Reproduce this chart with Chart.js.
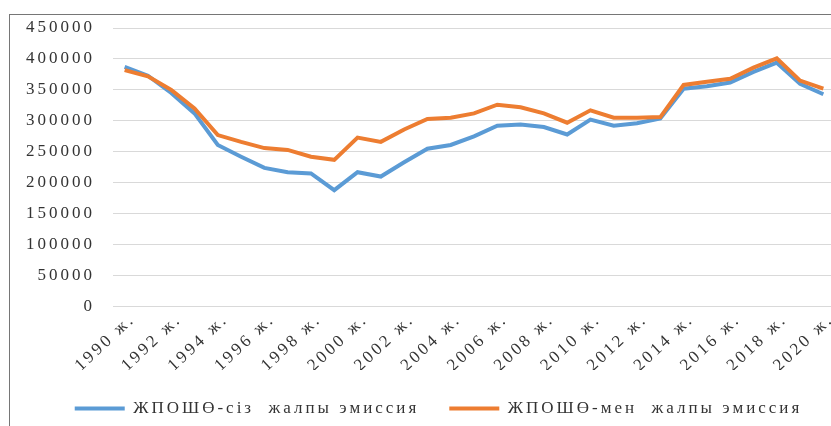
<!DOCTYPE html>
<html>
<head>
<meta charset="utf-8">
<script src="https://cdn.jsdelivr.net/npm/chart.js@4/dist/chart.umd.min.js"></script>
<style>
  html, body { margin: 0; padding: 0; background: #ffffff; overflow: hidden; }
  #frame { position: absolute; left: 9px; top: 14px; width: 862px; height: 412px; border: 1px solid #767676; }
  #c { display: block; }
</style>
</head>
<body>
<div id="frame"><canvas id="c" width="862" height="412"></canvas></div>
<script>
// ---- data ----
const years = ['1990 ж.','1991 ж.','1992 ж.','1993 ж.','1994 ж.','1995 ж.','1996 ж.','1997 ж.','1998 ж.','1999 ж.',
               '2000 ж.','2001 ж.','2002 ж.','2003 ж.','2004 ж.','2005 ж.','2006 ж.','2007 ж.','2008 ж.','2009 ж.',
               '2010 ж.','2011 ж.','2012 ж.','2013 ж.','2014 ж.','2015 ж.','2016 ж.','2017 ж.','2018 ж.','2019 ж.','2020 ж.'];
const withoutLULUCF = [387000, 373000, 345000, 312000, 261000, 242000, 224000, 217000, 215000, 188000,
                       217000, 210000, 233000, 255000, 261000, 275000, 292000, 294000, 290000, 278000,
                       302000, 292000, 296000, 304000, 352000, 356000, 362000, 379000, 394000, 360000, 343000];
const withLULUCF    = [382000, 372000, 350000, 320000, 277000, 266000, 256000, 253000, 242000, 237000,
                       273000, 266000, 286000, 303000, 305000, 312000, 326000, 322000, 312000, 297000,
                       317000, 305000, 305000, 306000, 358000, 363000, 368000, 386000, 401000, 365000, 352000];
const seriesNames = ['ЖПОШӨ-сіз  жалпы эмиссия', 'ЖПОШӨ-мен  жалпы эмиссия'];
const yTickMin = 0, yTickMax = 450000, yTickStep = 50000;

const FONT = 'Liberation Serif';
const SPACING = '3px';
const spacingPlugin = {
  id: 'spacing',
  beforeUpdate(chart) { chart.ctx.letterSpacing = SPACING; },
  beforeLayout(chart) { chart.ctx.letterSpacing = SPACING; },
  beforeDraw(chart) { chart.ctx.letterSpacing = SPACING; },
  afterLayout(chart) {
    const lg = chart.legend;
    if (lg) { lg.left += 16; lg.right += 16; }
  }
};

new Chart(document.getElementById('c'), {
  type: 'line',
  data: {
    labels: years,
    datasets: [
      { label: seriesNames[0], data: withoutLULUCF, borderColor: '#5B9BD5', backgroundColor: '#5B9BD5',
        borderWidth: 4, pointRadius: 0, tension: 0, order: 1 },
      { label: seriesNames[1], data: withLULUCF, borderColor: '#ED7D31', backgroundColor: '#ED7D31',
        borderWidth: 4, pointRadius: 0, tension: 0, order: 0 }
    ]
  },
  options: {
    responsive: false,
    animation: false,
    layout: { padding: { top: 13, right: 37, left: 0, bottom: 0 } },
    plugins: {
      tooltip: { enabled: false },
      legend: {
        position: 'bottom',
        labels: {
          usePointStyle: true, pointStyle: 'line', pointStyleWidth: 50,
          padding: 30, color: '#333333',
          font: { family: FONT, size: 17 },
          sort: (a, b) => a.datasetIndex - b.datasetIndex
        }
      }
    },
    scales: {
      x: {
        offset: true,
        grid: { display: false, drawTicks: false },
        border: { display: false },
        afterFit: s => { s.height = 63.5; s.paddingLeft = 0; s.paddingRight = 0; },
        ticks: {
          autoSkip: false, minRotation: 43, maxRotation: 43, padding: 3, labelOffset: 8,
          color: '#333333', font: { family: FONT, size: 17 },
          callback: function (v, i) { return i % 2 === 0 ? this.getLabelForValue(v) : ''; }
        }
      },
      y: {
        min: yTickMin, max: yTickMax,
        grid: { color: '#d9d9d9', lineWidth: 1, drawTicks: false },
        border: { display: false },
        afterFit: s => { s.width = 103; s.paddingTop = 0; s.paddingBottom = 0; },
        ticks: {
          stepSize: yTickStep, padding: 18, color: '#333333',
          font: { family: FONT, size: 17 },
          callback: v => String(v)
        }
      }
    }
  },
  plugins: [spacingPlugin]
});
</script>
</body>
</html>
